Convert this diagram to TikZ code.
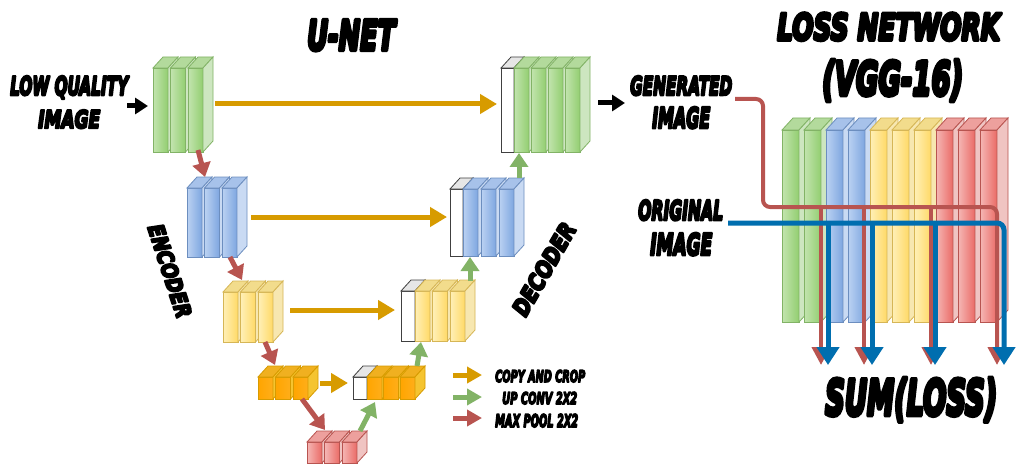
\documentclass[tikz,border=0pt]{standalone}
\usepackage{fontspec}
\setmainfont{DejaVu Sans}
\newfontfamily\comicfont{DejaVu Sans Bold Oblique}
\usepackage{graphicx}
\usetikzlibrary{arrows.meta}
% slab colours: L/R front gradient, T top, S side, K stroke
\definecolor{gL}{HTML}{C3E4AF}\definecolor{gR}{HTML}{92CE70}\definecolor{gT}{HTML}{B3DA9C}\definecolor{gS}{HTML}{CDE6C0}\definecolor{gK}{HTML}{82B366}
\definecolor{bL}{HTML}{BBD2F2}\definecolor{bR}{HTML}{7EA6E0}\definecolor{bT}{HTML}{A7C2EA}\definecolor{bS}{HTML}{C9DAF3}\definecolor{bK}{HTML}{6C8EBF}
\definecolor{yL}{HTML}{FFF0B8}\definecolor{yR}{HTML}{FFD966}\definecolor{yT}{HTML}{F2DC8C}\definecolor{yS}{HTML}{F7E7B0}\definecolor{yK}{HTML}{D6B656}
\definecolor{rL}{HTML}{F5B7B5}\definecolor{rR}{HTML}{EA6B66}\definecolor{rT}{HTML}{EDA09D}\definecolor{rS}{HTML}{F0C4C2}\definecolor{rK}{HTML}{B85450}
\definecolor{oL}{HTML}{FFA500}\definecolor{oR}{HTML}{FFAE1A}\definecolor{oT}{HTML}{F0B020}\definecolor{oS}{HTML}{F5C430}\definecolor{oK}{HTML}{D79B00}
\definecolor{wL}{HTML}{FFFFFF}\definecolor{wR}{HTML}{FFFFFF}\definecolor{wT}{HTML}{E6E6E6}\definecolor{wS}{HTML}{FFFFFF}\definecolor{wK}{HTML}{404040}
\definecolor{copyc}{HTML}{D79B00}
\definecolor{upc}{HTML}{82B366}
\definecolor{poolc}{HTML}{B85450}
\definecolor{origc}{HTML}{006EAF}
\def\dx{10}\def\dy{11}
% one slab: x, y (top of front face), width, height, colour prefix
\newcommand\slabc[5]{%
  \path[draw=#5K, line width=0.8pt, left color=#5L, right color=#5R] ({#1},{#2}) rectangle ++(#3,#4);
  \path[draw=#5K, line width=0.8pt, fill=#5T] ({#1},{#2}) -- ++(\dx,-\dy) -- ++(#3,0) -- ++(-\dx,\dy) -- cycle;
  \path[draw=#5K, line width=0.8pt, fill=#5S] ({#1+#3},{#2}) -- ++(\dx,-\dy) -- ++(0,#4) -- ++(-\dx,\dy) -- cycle;
}
% block of n slabs: x0, y, h, n, spacing, colour
\newcommand\slabblock[6]{%
  \foreach \i in {1,...,#4}{\slabc{#1+(\i-1)*#5}{#2}{15}{#3}{#6}}%
}
% heavy text: fill + stroke rendering
\newcommand\heavytext[1]{\special{pdf:literal direct 0 G 2 Tr 1 w 1 j}#1\special{pdf:literal direct 0 Tr}}
\newcommand\rtxt[3]{\resizebox{#1pt}{#2pt}{\comicfont\heavytext{#3}}}
\begin{document}
\begin{tikzpicture}[x=1pt,y=-1pt,
  lbl/.style={inner sep=0pt, anchor=base west},
  rlbl/.style={inner sep=0pt, anchor=center},
  copyarr/.style={draw=copyc, line width=5pt, -{Triangle[length=17pt,width=19pt]}},
  uparr/.style={draw=upc, line width=5pt, -{Triangle[length=14pt,width=18pt]}},
  poolarr/.style={draw=poolc, line width=5pt, -{Triangle[length=14pt,width=18pt]}},
  legarr/.style={line width=5pt, -{Triangle[length=15pt,width=16pt]}},
  blackarr/.style={draw=black, line width=5pt, -{Triangle[length=13pt,width=16pt]}},
  genline/.style={draw=poolc, line width=4pt, rounded corners=7pt},
  genarr/.style={draw=poolc, line width=4pt, -{Triangle[length=18pt,width=18pt]}},
  origline/.style={draw=origc, line width=5pt, rounded corners=7pt},
  origarr/.style={draw=origc, line width=5pt, -{Triangle[length=18pt,width=22pt]}}]
\fill[white] (0,0) rectangle (1024,465);
\useasboundingbox (0,0) rectangle (1024,465);

% ---------------- encoder ----------------
\slabblock{153}{68}{84}{3}{17.5}{g}
\slabblock{187}{188}{69}{3}{17.5}{b}
\slabblock{223}{292}{50}{3}{17.5}{y}
\slabblock{258}{377}{22}{3}{17.5}{o}
\slabblock{307}{442}{21}{3}{17.5}{r}
% ---------------- decoder ----------------
\slabc{353}{377}{14}{22}{w}
\slabblock{367}{377}{22}{3}{16.5}{o}
\slabc{401}{291}{14}{50}{w}
\slabblock{415}{291}{50}{3}{17.5}{y}
\slabc{450}{189}{13}{67}{w}
\slabblock{463}{189}{67}{3}{18}{b}
\slabc{501}{68}{13}{84}{w}
\slabblock{514}{68}{84}{4}{17}{g}

% ---------------- loss network ----------------
\def\dx{11}\def\dy{12}
\foreach \c [count=\i] in {g,g,b,b,y,y,y,r,r,r}{\slabc{782+(\i-1)*22}{130}{17}{192}{\c}}

% ---------------- coordinates ----------------
\coordinate (c1s) at (215,104); \coordinate (c1e) at (497,104);
\coordinate (c2s) at (251,217); \coordinate (c2e) at (447,217);
\coordinate (c3s) at (290,310); \coordinate (c3e) at (395,310);
\coordinate (c4s) at (320,383); \coordinate (c4e) at (348,383);
\coordinate (m1s) at (198,150); \coordinate (m1e) at (205,177);
\coordinate (m2s) at (230,257); \coordinate (m2e) at (242,280);
\coordinate (m3s) at (265,342); \coordinate (m3e) at (275,365);
\coordinate (m4s) at (302,399); \coordinate (m4e) at (325,430);
\coordinate (u1s) at (360,431); \coordinate (u1e) at (375,402);
\coordinate (u2s) at (417,366); \coordinate (u2e) at (421,342);
\coordinate (u3s) at (470,281); \coordinate (u3e) at (470,257);
\coordinate (u4s) at (519,178); \coordinate (u4e) at (519,153);
\coordinate (ins) at (127,106); \coordinate (ine) at (148,106);
\coordinate (outs) at (598,103); \coordinate (oute) at (625,103);
\coordinate (l1s) at (453,375); \coordinate (l1e) at (482,375);
\coordinate (l2s) at (453,397); \coordinate (l2e) at (482,397);
\coordinate (l3s) at (453,418); \coordinate (l3e) at (482,418);

% ---------------- arrows ----------------
\draw[copyarr] (c1s) -- (c1e);
\draw[copyarr] (c2s) -- (c2e);
\draw[copyarr] (c3s) -- (c3e);
\draw[copyarr] (c4s) -- (c4e);
\draw[poolarr] (m1s) -- (m1e);
\draw[poolarr] (m2s) -- (m2e);
\draw[poolarr] (m3s) -- (m3e);
\draw[poolarr] (m4s) -- (m4e);
\draw[uparr] (u1s) -- (u1e);
\draw[uparr] (u2s) -- (u2e);
\draw[uparr] (u3s) -- (u3e);
\draw[uparr] (u4s) -- (u4e);
\draw[blackarr] (ins) -- (ine);
\draw[blackarr] (outs) -- (oute);
\draw[legarr, draw=copyc] (l1s) -- (l1e);
\draw[legarr, draw=upc] (l2s) -- (l2e);
\draw[legarr, draw=poolc] (l3s) -- (l3e);

% ---------------- loss lines ----------------
\coordinate (gen0) at (735,99);
\coordinate (gen1) at (763,99);
\coordinate (gen2) at (763,207);
\coordinate (gen3) at (997,207);
\foreach \xx/\nm in {821/ga,864/gb,931/gc,997/gd}{
  \coordinate (\nm t) at (\xx,207);
  \coordinate (\nm e) at (\xx,365);
}
\draw[genline, -{Triangle[length=18pt,width=18pt]}] (gen0) -- (gen1) -- (gen2) -- (gen3) -- (gde);
\draw[genarr] (gat) -- (gae);
\draw[genarr] (gbt) -- (gbe);
\draw[genarr] (gct) -- (gce);
\coordinate (orig0) at (728,223);
\coordinate (orig1) at (1004,223);
\foreach \xx/\nm in {828/oa,872/ob,935/oc,1004/od}{
  \coordinate (\nm t) at (\xx,223);
  \coordinate (\nm e) at (\xx,365);
}
\draw[origline, -{Triangle[length=18pt,width=22pt]}] (orig0) -- (orig1) -- (ode);
\draw[origarr] (oat) -- (oae);
\draw[origarr] (obt) -- (obe);
\draw[origarr] (oct) -- (oce);

% ---------------- labels ----------------
\node[lbl] (unet) at (307,50) {\rtxt{88}{30}{U-NET}};
\node[lbl] (lq1) at (10,95) {\rtxt{118}{19}{LOW QUALITY}};
\node[lbl] (lq2) at (38,128) {\rtxt{62}{18}{IMAGE}};
\node[lbl] (gi1) at (630,95) {\rtxt{102}{19}{GENERATED}};
\node[lbl] (gi2) at (652,128) {\rtxt{58}{21}{IMAGE}};
\node[lbl] (ln1) at (777,40) {\rtxt{223}{27}{LOSS NETWORK}};
\node[lbl] (ln2) at (822,95) {\rtxt{141}{35}{(VGG-16)}};
\node[lbl] (oi1) at (638,220) {\rtxt{85}{20}{ORIGINAL}};
\node[lbl] (oi2) at (650,255) {\rtxt{62}{22}{IMAGE}};
\node[lbl] (sum) at (825,415) {\rtxt{172}{37}{SUM(LOSS)}};
\node[lbl] (lg1) at (495,382) {\rtxt{90}{12}{COPY AND CROP}};
\node[lbl] (lg2) at (502,404) {\rtxt{75}{12}{UP CONV 2X2}};
\node[lbl] (lg3) at (495,427) {\rtxt{83}{13}{MAX POOL 2X2}};
\node[rlbl, rotate=-72] (enc) at (170,271) {\rtxt{97}{16}{ENCODER}};
\node[rlbl, rotate=60] (dec) at (544,269) {\rtxt{103}{17}{DECODER}};
\end{tikzpicture}
\end{document}
